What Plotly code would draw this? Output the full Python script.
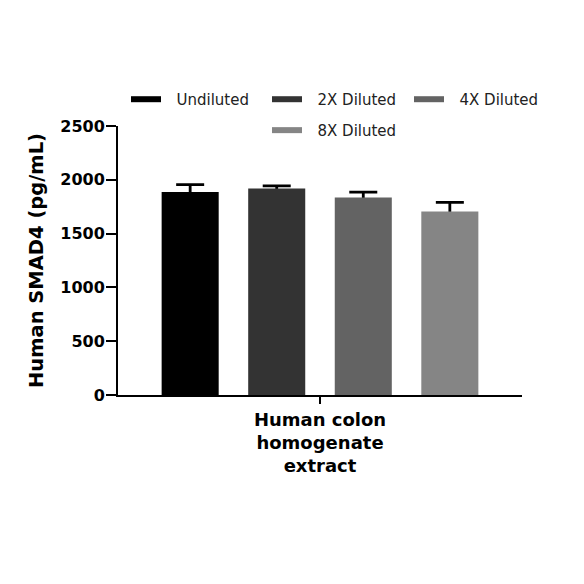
import plotly.graph_objects as go

category = "Human colon<br>homogenate<br>extract"
series = ["Undiluted", "2X Diluted", "4X Diluted", "8X Diluted"]
means = [1887, 1919, 1835, 1706]
errors = [68, 25, 50, 84]
colors = ["#000000", "#333333", "#636363", "#858585"]

# one small legend per entry so the 3 + 1 layout of the original can be kept
legend_ids = ["legend", "legend2", "legend3", "legend4"]
legend_x = [0.0198, 0.3688, 0.7203, 0.3688]
legend_y = [1.160, 1.160, 1.160, 1.045]

font_family = "DejaVu Sans"
legend_font = dict(family=font_family, size=15, color="#222222")

fig = go.Figure()

# error bars ride on a hidden copy of each bar; the real bar (same offsetgroup)
# is drawn on top so only the upper half of the error bar shows
for i, (name, m, e) in enumerate(zip(series, means, errors)):
    fig.add_trace(go.Bar(
        x=[category], y=[m], name=name, offsetgroup=str(i),
        marker=dict(color="rgba(0,0,0,0)", line=dict(width=0)),
        error_y=dict(type="data", array=[e], arrayminus=[40], symmetric=False,
                     color="#000000", thickness=2.8, width=14),
        showlegend=False, hoverinfo="skip"))
    fig.add_trace(go.Bar(
        x=[category], y=[m], name=name, offsetgroup=str(i),
        marker=dict(color=colors[i], line=dict(width=0)),
        showlegend=False))

for name, c, lg in zip(series, colors, legend_ids):
    fig.add_trace(go.Scatter(
        x=[None], y=[None], mode="lines", name="\u2002\u2009" + name,
        line=dict(color=c, width=6), legend=lg))

legends = {}
for lg, lx, ly in zip(legend_ids, legend_x, legend_y):
    legends[lg] = dict(orientation="h", x=lx, xanchor="left", y=ly, yanchor="top",
                       font=legend_font, bgcolor="rgba(0,0,0,0)")

# page body adds 8px at top/left, so the figure is 8px smaller
fig.update_layout(
    width=576, height=576, template=None,
    plot_bgcolor="white", paper_bgcolor="white",
    font=dict(family=font_family, color="#000000"),
    margin=dict(l=110, r=62, t=118, b=189),
    barmode="group", bargap=0.143, bargroupgap=0.341,
    **legends,
)

fig.update_yaxes(
    range=[0, 2500], dtick=500, showgrid=False, zeroline=False,
    showline=True, linewidth=2, linecolor="#000000",
    ticks="outside", ticklen=10, tickwidth=2, tickcolor="#000000",
    ticklabelstandoff=-2,
    tickfont=dict(family=font_family, size=16, weight="bold"),
    title=dict(text="Human SMAD4 (pg/mL)", standoff=11,
               font=dict(family=font_family, size=19.5, weight="bold")))

fig.update_xaxes(
    showgrid=False, zeroline=False,
    showline=True, linewidth=2, linecolor="#000000",
    ticks="outside", ticklen=7, tickwidth=2, tickcolor="#000000",
    tickfont=dict(family=font_family, size=18, weight="bold"))

fig.write_html("out.html")
